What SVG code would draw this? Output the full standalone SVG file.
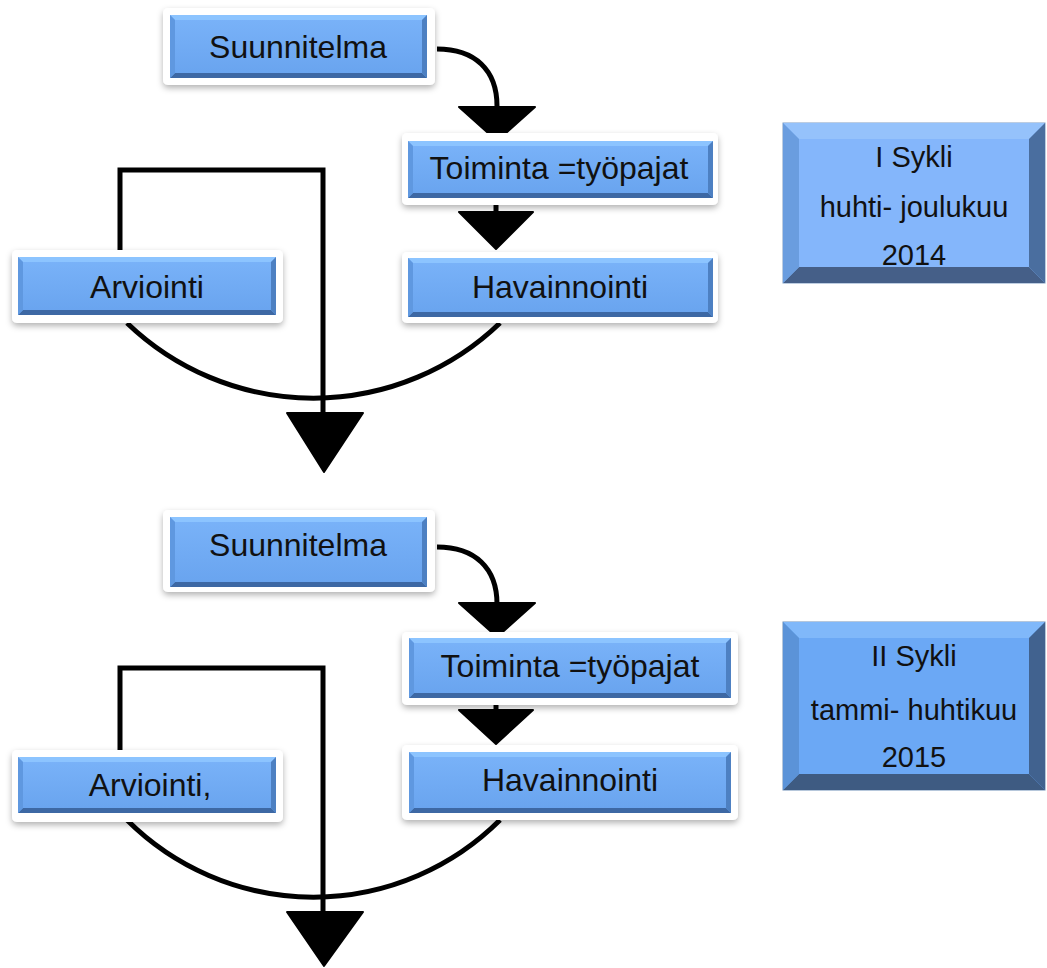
<svg xmlns="http://www.w3.org/2000/svg" width="1047" height="968" viewBox="0 0 1047 968">
<defs>
<filter id="sh" x="-10%" y="-20%" width="120%" height="150%">
<feDropShadow dx="0" dy="3" stdDeviation="3" flood-color="#000" flood-opacity="0.3"/>
</filter>
<linearGradient id="face" x1="0" y1="0" x2="0" y2="1">
<stop offset="0" stop-color="#7ab3f9"/>
<stop offset="1" stop-color="#68a3ee"/>
</linearGradient>
<style>
.frame{fill:#fff;filter:url(#sh)}
.face{fill:url(#face)}
.bt{fill:#8cc4ff}
.bl{fill:#5f98e0}
.br{fill:#4d80c2}
.bb{fill:#3d68a4}
.lbl{font-family:"Liberation Sans",Arial,sans-serif;font-size:32px;fill:#111;text-anchor:middle}
.syk{font-family:"Liberation Sans",Arial,sans-serif;font-size:29px;fill:#111;text-anchor:middle}
.ln{fill:none;stroke:#000;stroke-width:5}
.ah{fill:#000;stroke:#000;stroke-width:2;stroke-linejoin:round}
</style>
</defs>
<rect width="1047" height="968" fill="#fff"/>

<g id="connectors">
<path class="ln" d="M437,49 C475,49 497,70 497,106"/>
<polygon class="ah" points="459,107 535,107 497,141"/>
<line class="ln" x1="496" y1="185" x2="496" y2="213"/>
<polygon class="ah" points="459,212 533,212 496,249"/>
<path class="ln" d="M120,252 V170 H323 V414"/>
<path class="ln" d="M127,323 A269,269 0 0 0 500,323"/>
<polygon class="ah" points="287,413 363,413 324,472"/>

<path class="ln" d="M437,547 C475,547 497,568 497,604"/>
<polygon class="ah" points="459,603 535,603 497,637"/>
<line class="ln" x1="496" y1="682" x2="496" y2="711"/>
<polygon class="ah" points="459,710 533,710 496,744"/>
<path class="ln" d="M120,750 V668 H323 V913"/>
<path class="ln" d="M127,820 A264,264 0 0 0 500,820"/>
<polygon class="ah" points="287,912 363,912 324,966"/>
</g>

<g id="suunnitelma1">
<rect class="frame" x="163" y="8" width="272" height="77" rx="5"/>
<rect class="face" x="170" y="15" width="257" height="63"/>
<polygon class="bt" points="170,15 427,15 422,20 175,20"/>
<polygon class="bb" points="170,78 427,78 422,73 175,73"/>
<polygon class="bl" points="170,15 175,20 175,73 170,78"/>
<polygon class="br" points="427,15 422,20 422,73 427,78"/>
<text class="lbl" x="298" y="58">Suunnitelma</text>
</g>

<g id="toiminta1">
<rect class="frame" x="402" y="133" width="316" height="72" rx="5"/>
<rect class="face" x="408" y="141" width="305" height="57"/>
<polygon class="bt" points="408,141 713,141 708,146 413,146"/>
<polygon class="bb" points="408,198 713,198 708,193 413,193"/>
<polygon class="bl" points="408,141 413,146 413,193 408,198"/>
<polygon class="br" points="713,141 708,146 708,193 713,198"/>
<text class="lbl" x="559" y="179">Toiminta =työpajat</text>
</g>

<g id="havainnointi1">
<rect class="frame" x="402" y="252" width="316" height="71" rx="5"/>
<rect class="face" x="408" y="258" width="305" height="59"/>
<polygon class="bt" points="408,258 713,258 708,263 413,263"/>
<polygon class="bb" points="408,317 713,317 708,312 413,312"/>
<polygon class="bl" points="408,258 413,263 413,312 408,317"/>
<polygon class="br" points="713,258 708,263 708,312 713,317"/>
<text class="lbl" x="560" y="298">Havainnointi</text>
</g>

<g id="arviointi1">
<rect class="frame" x="12" y="250" width="271" height="73" rx="5"/>
<rect class="face" x="18" y="257" width="258" height="58"/>
<polygon class="bt" points="18,257 276,257 271,262 23,262"/>
<polygon class="bb" points="18,315 276,315 271,310 23,310"/>
<polygon class="bl" points="18,257 23,262 23,310 18,315"/>
<polygon class="br" points="276,257 271,262 271,310 276,315"/>
<text class="lbl" x="147" y="298">Arviointi</text>
</g>

<g id="sykli1">
<rect x="783" y="123" width="262" height="160" fill="#84b6fb" stroke="#7d9cc4" stroke-width="1"/>
<polygon fill="#95c2fb" points="783,123 1045,123 1029,139 799,139"/>
<polygon fill="#455f88" points="783,283 1045,283 1029,267 799,267"/>
<polygon fill="#6a9ddf" points="783,123 799,139 799,267 783,283"/>
<polygon fill="#4a6e9f" points="1045,123 1029,139 1029,267 1045,283"/>
<text class="syk" x="914" y="167">I Sykli</text>
<text class="syk" x="914" y="217">huhti- joulukuu</text>
<text class="syk" x="914" y="265">2014</text>
</g>

<g id="suunnitelma2">
<rect class="frame" x="163" y="510" width="272" height="82" rx="5"/>
<rect class="face" x="170" y="517" width="257" height="70"/>
<polygon class="bt" points="170,517 427,517 422,522 175,522"/>
<polygon class="bb" points="170,587 427,587 422,582 175,582"/>
<polygon class="bl" points="170,517 175,522 175,582 170,587"/>
<polygon class="br" points="427,517 422,522 422,582 427,587"/>
<text class="lbl" x="298" y="556">Suunnitelma</text>
</g>

<g id="toiminta2">
<rect class="frame" x="402" y="632" width="336" height="73" rx="5"/>
<rect class="face" x="409" y="638" width="322" height="60"/>
<polygon class="bt" points="409,638 731,638 726,643 414,643"/>
<polygon class="bb" points="409,698 731,698 726,693 414,693"/>
<polygon class="bl" points="409,638 414,643 414,693 409,698"/>
<polygon class="br" points="731,638 726,643 726,693 731,698"/>
<text class="lbl" x="570" y="677">Toiminta =työpajat</text>
</g>

<g id="havainnointi2">
<rect class="frame" x="402" y="745" width="336" height="75" rx="5"/>
<rect class="face" x="409" y="752" width="322" height="61"/>
<polygon class="bt" points="409,752 731,752 726,757 414,757"/>
<polygon class="bb" points="409,813 731,813 726,808 414,808"/>
<polygon class="bl" points="409,752 414,757 414,808 409,813"/>
<polygon class="br" points="731,752 726,757 726,808 731,813"/>
<text class="lbl" x="570" y="791">Havainnointi</text>
</g>

<g id="arviointi2">
<rect class="frame" x="12" y="750" width="271" height="72" rx="5"/>
<rect class="face" x="18" y="757" width="258" height="56"/>
<polygon class="bt" points="18,757 276,757 271,762 23,762"/>
<polygon class="bb" points="18,813 276,813 271,808 23,808"/>
<polygon class="bl" points="18,757 23,762 23,808 18,813"/>
<polygon class="br" points="276,757 271,762 271,808 276,813"/>
<text class="lbl" x="150" y="796">Arviointi,</text>
</g>

<g id="sykli2">
<rect x="783" y="622" width="262" height="168" fill="#6ba8f5" stroke="#6f8fb8" stroke-width="1"/>
<polygon fill="#80b8fa" points="783,622 1045,622 1029,638 799,638"/>
<polygon fill="#3e5b82" points="783,790 1045,790 1029,774 799,774"/>
<polygon fill="#5b93d8" points="783,622 799,638 799,774 783,790"/>
<polygon fill="#41628f" points="1045,622 1029,638 1029,774 1045,790"/>
<text class="syk" x="914" y="666">II Sykli</text>
<text class="syk" x="914" y="720">tammi- huhtikuu</text>
<text class="syk" x="914" y="767">2015</text>
</g>
</svg>
